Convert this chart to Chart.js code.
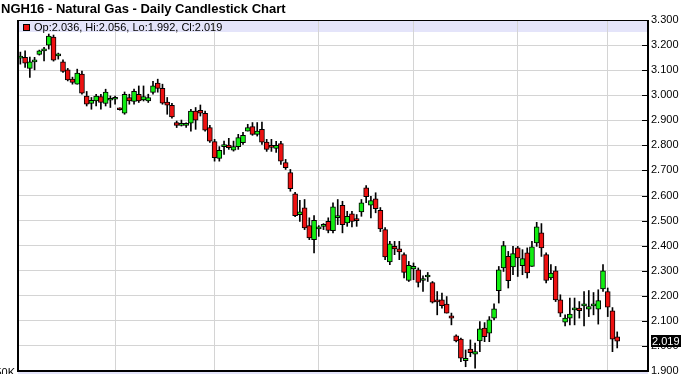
<!DOCTYPE html>
<html>
<head>
<meta charset="utf-8">
<script src="https://cdn.jsdelivr.net/npm/chart.js@4/dist/chart.umd.min.js"></script>
<style>
html,body{margin:0;padding:0;background:#fff;overflow:hidden;}
#wrap{position:relative;width:681px;height:374px;}
</style>
</head>
<body>
<div id="wrap"><canvas id="c" width="681" height="374"></canvas></div>
<script>
const titleText = "NGH16 - Natural Gas - Daily Candlestick Chart";
const dates = [
"2015-08-04","2015-08-05","2015-08-06","2015-08-07","2015-08-10","2015-08-11","2015-08-12","2015-08-13","2015-08-14","2015-08-17",
"2015-08-18","2015-08-19","2015-08-20","2015-08-21","2015-08-24","2015-08-25","2015-08-26","2015-08-27","2015-08-28","2015-08-31",
"2015-09-01","2015-09-02","2015-09-03","2015-09-04","2015-09-08","2015-09-09","2015-09-10","2015-09-11","2015-09-14","2015-09-15",
"2015-09-16","2015-09-17","2015-09-18","2015-09-21","2015-09-22","2015-09-23","2015-09-24","2015-09-25","2015-09-28","2015-09-29",
"2015-09-30","2015-10-01","2015-10-02","2015-10-05","2015-10-06","2015-10-07","2015-10-08","2015-10-09","2015-10-12","2015-10-13",
"2015-10-14","2015-10-15","2015-10-16","2015-10-19","2015-10-20","2015-10-21","2015-10-22","2015-10-23","2015-10-26","2015-10-27",
"2015-10-28","2015-10-29","2015-10-30","2015-11-02","2015-11-03","2015-11-04","2015-11-05","2015-11-06","2015-11-09","2015-11-10",
"2015-11-11","2015-11-12","2015-11-13","2015-11-16","2015-11-17","2015-11-18","2015-11-19","2015-11-20","2015-11-23","2015-11-24",
"2015-11-25","2015-11-27","2015-11-30","2015-12-01","2015-12-02","2015-12-03","2015-12-04","2015-12-07","2015-12-08","2015-12-09",
"2015-12-10","2015-12-11","2015-12-14","2015-12-15","2015-12-16","2015-12-17","2015-12-18","2015-12-21","2015-12-22","2015-12-23",
"2015-12-24","2015-12-28","2015-12-29","2015-12-30","2015-12-31","2016-01-04","2016-01-05","2016-01-06","2016-01-07","2016-01-08",
"2016-01-11","2016-01-12","2016-01-13","2016-01-14","2016-01-15","2016-01-19","2016-01-20","2016-01-21","2016-01-22","2016-01-25",
"2016-01-26","2016-01-27","2016-01-28","2016-01-29","2016-02-01","2016-02-02","2016-02-03"];

const opens = [3.148,3.151,3.107,3.133,3.163,3.177,3.200,3.232,3.157,3.133,
3.101,3.064,3.044,3.084,2.997,2.967,2.977,2.995,2.967,2.980,
2.984,2.946,2.928,2.991,2.975,3.004,2.981,2.977,3.011,3.048,
3.027,2.973,2.960,2.891,2.880,2.880,2.888,2.937,2.940,2.928,
2.871,2.815,2.748,2.795,2.801,2.781,2.795,2.811,2.857,2.875,
2.844,2.864,2.813,2.800,2.788,2.807,2.731,2.691,2.607,2.524,
2.551,2.480,2.424,2.467,2.477,2.497,2.460,2.512,2.561,2.491,
2.527,2.508,2.535,2.631,2.561,2.587,2.541,2.464,2.335,2.397,
2.387,2.364,2.261,2.307,2.304,2.261,2.275,2.253,2.181,2.184,
2.167,2.120,2.040,2.027,1.941,1.987,1.967,2.020,2.071,2.051,
2.111,2.220,2.311,2.357,2.315,2.391,2.320,2.371,2.317,2.411,
2.451,2.364,2.271,2.300,2.184,2.095,2.111,2.144,2.151,2.160,
2.147,2.160,2.147,2.227,2.217,2.140,2.036];
const highs = [3.172,3.177,3.152,3.151,3.180,3.191,3.244,3.240,3.168,3.141,
3.107,3.072,3.104,3.096,3.015,2.991,3.004,3.004,3.024,2.997,
2.997,2.950,3.013,3.004,3.024,3.037,3.037,3.004,3.055,3.064,
3.044,2.991,2.968,2.897,2.901,2.890,2.944,2.951,2.961,2.937,
2.880,2.824,2.795,2.817,2.828,2.817,2.844,2.852,2.884,2.891,
2.891,2.893,2.824,2.824,2.816,2.816,2.744,2.704,2.613,2.581,
2.584,2.511,2.520,2.480,2.488,2.511,2.571,2.584,2.577,2.537,
2.537,2.524,2.584,2.640,2.597,2.611,2.552,2.472,2.417,2.417,
2.417,2.371,2.337,2.331,2.311,2.280,2.293,2.257,2.217,2.211,
2.197,2.131,2.044,2.031,1.984,2.024,2.011,2.097,2.093,2.117,
2.168,2.317,2.417,2.377,2.397,2.397,2.384,2.391,2.417,2.493,
2.488,2.371,2.324,2.317,2.204,2.124,2.191,2.191,2.177,2.217,
2.221,2.213,2.224,2.324,2.231,2.153,2.056];
const lows = [3.124,3.111,3.071,3.101,3.160,3.137,3.184,3.136,3.144,3.091,
3.057,3.044,3.044,3.004,2.957,2.944,2.957,2.944,2.957,2.951,
2.964,2.940,2.924,2.964,2.964,2.971,2.977,2.971,3.004,3.012,
2.964,2.924,2.908,2.871,2.877,2.872,2.857,2.864,2.917,2.857,
2.812,2.737,2.737,2.764,2.784,2.777,2.784,2.804,2.857,2.840,
2.837,2.804,2.776,2.776,2.772,2.724,2.704,2.617,2.516,2.497,
2.464,2.424,2.371,2.437,2.464,2.451,2.451,2.484,2.451,2.477,
2.475,2.477,2.517,2.571,2.511,2.531,2.456,2.344,2.324,2.364,
2.344,2.271,2.257,2.264,2.235,2.217,2.257,2.171,2.124,2.151,
2.131,2.084,2.016,1.937,1.917,1.957,1.911,1.977,2.017,2.017,
2.104,2.171,2.297,2.231,2.284,2.277,2.284,2.271,2.317,2.397,
2.357,2.251,2.264,2.177,2.117,2.080,2.084,2.084,2.111,2.080,
2.117,2.124,2.087,2.217,2.117,1.977,1.992];
const closes = [3.156,3.128,3.133,3.133,3.177,3.177,3.236,3.140,3.157,3.095,
3.061,3.051,3.088,3.008,2.964,2.980,2.997,2.971,3.013,2.980,
2.984,2.942,3.004,2.977,3.015,2.977,2.995,2.991,3.037,3.027,
2.968,2.960,2.913,2.880,2.880,2.880,2.937,2.900,2.928,2.861,
2.817,2.751,2.780,2.795,2.791,2.795,2.831,2.840,2.871,2.844,
2.857,2.813,2.784,2.792,2.800,2.737,2.711,2.627,2.520,2.535,
2.471,2.431,2.501,2.467,2.477,2.461,2.555,2.512,2.484,2.517,
2.497,2.500,2.571,2.595,2.580,2.547,2.467,2.355,2.407,2.387,
2.375,2.293,2.321,2.317,2.253,2.261,2.275,2.175,2.176,2.161,
2.131,2.111,2.020,1.951,1.951,1.973,1.977,2.068,2.037,2.104,
2.148,2.304,2.400,2.260,2.368,2.351,2.348,2.291,2.395,2.475,
2.391,2.261,2.291,2.184,2.131,2.111,2.127,2.144,2.141,2.160,
2.157,2.160,2.181,2.300,2.155,2.027,2.019];

// first trading day of each month (vertical grid lines)
const monthStarts = ["2015-09-01","2015-10-01","2015-11-02","2015-12-01","2016-01-04","2016-02-01"];
const yTicks = {min: 1.9, max: 3.3, step: 0.1};
const emptySlotsRight = 6;

const GREEN = '#11ee11', RED = '#ee1111';
const FONT = '"Liberation Sans", Arial, Helvetica, sans-serif';
Chart.defaults.font.family = FONT;
Chart.defaults.color = '#000';

const bodyData = dates.map((d, i) => ({x: i, y: [opens[i], closes[i]]}));
const wickData = dates.map((d, i) => ({x: i, y: [lows[i], highs[i]]}));
const bodyColors = dates.map((d, i) => closes[i] >= opens[i] ? GREEN : RED);
const monthIdx = monthStarts.map(m => dates.indexOf(m));
const last = dates.length - 1;

const noPad = s => { s.paddingTop = 0; s.paddingBottom = 0; s.paddingLeft = 0; s.paddingRight = 0; };

const deco = {
  id: 'deco',
  beforeDraw(chart) {
    const {ctx, chartArea: a} = chart;
    ctx.save();
    ctx.fillStyle = '#fff';
    ctx.fillRect(0, 0, chart.width, chart.height);
    ctx.fillStyle = '#e4e4fa';
    ctx.fillRect(a.left, a.top, a.right - a.left, 12);
    ctx.fillRect(a.left, a.bottom, a.right - a.left, chart.height - a.bottom);
    ctx.restore();
  },
  afterDraw(chart) {
    const {ctx, chartArea: a} = chart;
    const ys = chart.scales.y;
    ctx.save();
    ctx.fillStyle = '#000';
    // frame
    ctx.fillRect(a.left - 1, a.top, 2, a.bottom - a.top + 1);
    ctx.fillRect(a.left, a.top, a.right - a.left, 1);
    ctx.fillRect(a.right - 1, a.top, 2, a.bottom - a.top + 1);
    ctx.fillRect(a.left - 1, a.bottom - 1, a.right - a.left + 2, 2);
    // inner tick marks
    ys.ticks.forEach(t => {
      const y = Math.round(ys.getPixelForValue(t.value));
      ctx.fillRect(a.right - 6, y, 5, 1);
    });
    // title
    ctx.font = 'bold 13px ' + FONT;
    ctx.textBaseline = 'alphabetic';
    ctx.textAlign = 'left';
    ctx.fillText(titleText, 1, 13);
    // legend (last candle OHLC)
    const lc = closes[last] >= opens[last] ? GREEN : RED;
    ctx.fillStyle = '#000';
    ctx.fillRect(23, 24, 7, 7);
    ctx.fillStyle = lc;
    ctx.fillRect(24, 25, 5, 5);
    ctx.fillStyle = '#000';
    ctx.font = '11px ' + FONT;
    ctx.fillText('Op:' + opens[last].toFixed(3) + ', Hi:' + highs[last].toFixed(3) +
      ', Lo:' + lows[last].toFixed(3) + ', Cl:' + closes[last].toFixed(3), 34, 31);
    // last price marker
    const py = ys.getPixelForValue(closes[last]);
    ctx.fillRect(a.right + 3, Math.round(py) - 6, 30, 12);
    ctx.fillStyle = '#fff';
    ctx.textBaseline = 'middle';
    ctx.fillText(closes[last].toFixed(3), a.right + 4, Math.round(py) + 0.5);
    // volume panel label (clipped)
    ctx.fillStyle = '#000';
    ctx.textBaseline = 'alphabetic';
    ctx.textAlign = 'right';
    ctx.fillText('50K', 15, 376);
    ctx.restore();
  }
};

new Chart(document.getElementById('c'), {
  type: 'bar',
  data: {
    datasets: [
      {
        label: 'body',
        data: bodyData,
        backgroundColor: bodyColors,
        borderColor: '#000',
        borderWidth: 1,
        borderSkipped: false,
        barThickness: 5,
        minBarLength: 2,
        grouped: false
      },
      {
        label: 'wick',
        data: wickData,
        backgroundColor: '#000',
        borderWidth: 0,
        barThickness: 1,
        grouped: false
      }
    ]
  },
  options: {
    responsive: false,
    animation: false,
    devicePixelRatio: 1,
    layout: {autoPadding: false, padding: {left: 18, top: 20, right: 0, bottom: 3}},
    plugins: {legend: {display: false}, tooltip: {enabled: false}, title: {display: false}},
    scales: {
      x: {
        type: 'linear',
        min: -0.5,
        max: last + 0.5 + emptySlotsRight,
        offset: false,
        afterBuildTicks: s => { s.ticks = monthIdx.map(v => ({value: v})); },
        afterFit: s => { s.height = 0; noPad(s); },
        ticks: {display: false},
        grid: {color: '#d4d4d4', drawTicks: false, lineWidth: 1, offset: false},
        border: {display: false}
      },
      y: {
        position: 'right',
        min: yTicks.min,
        max: yTicks.max,
        afterFit: s => { s.width = 33; noPad(s); },
        ticks: {
          stepSize: yTicks.step,
          padding: 3,
          color: '#000',
          font: {size: 11, family: FONT},
          callback: v => Number(v).toFixed(3)
        },
        grid: {color: '#d4d4d4', drawTicks: false},
        border: {display: false}
      }
    }
  },
  plugins: [deco]
});
</script>
</body>
</html>
